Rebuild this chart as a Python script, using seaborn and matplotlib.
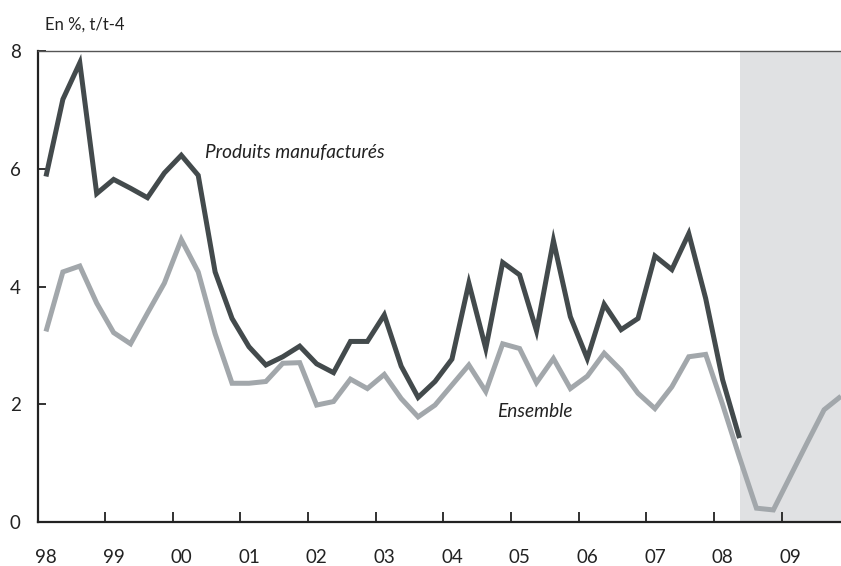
import numpy as np
import pandas as pd
import matplotlib
matplotlib.use("Agg")
import matplotlib.pyplot as plt
import seaborn as sns

# ---- data (quarterly, 1998Q1 onwards) ----
start_year = 1998
manuf = [5.87, 7.18, 7.80, 5.58, 5.82, 5.67, 5.51, 5.93, 6.23, 5.89,
         4.25, 3.46, 2.98, 2.67, 2.81, 2.99, 2.69, 2.54, 3.07, 3.07,
         3.52, 2.65, 2.12, 2.39, 2.77, 4.06, 2.95, 4.41, 4.20, 3.25,
         4.78, 3.49, 2.78, 3.70, 3.27, 3.46, 4.52, 4.29, 4.90, 3.80,
         2.42, 1.43]
ensemble = [3.24, 4.25, 4.35, 3.72, 3.22, 3.03, 3.55, 4.06, 4.80, 4.25,
            3.20, 2.36, 2.36, 2.39, 2.70, 2.71, 1.99, 2.05, 2.43, 2.27,
            2.51, 2.10, 1.79, 1.99, 2.33, 2.67, 2.22, 3.03, 2.95, 2.37,
            2.78, 2.27, 2.48, 2.87, 2.58, 2.19, 1.93, 2.30, 2.81, 2.85,
            2.00, 1.10, 0.24, 0.21, 0.78, 1.35, 1.91, 2.14]
year_labels = ["98", "99", "00", "01", "02", "03", "04", "05", "06", "07", "08", "09"]
y_ticks = [0, 2, 4, 6, 8]
forecast_start = 2008.375  # shaded (forecast) period start

def qpos(n):
    return start_year + (np.arange(n) + 0.5) / 4.0

df = pd.concat([
    pd.DataFrame({"t": qpos(len(manuf)), "v": manuf, "s": "Produits manufacturés"}),
    pd.DataFrame({"t": qpos(len(ensemble)), "v": ensemble, "s": "Ensemble"}),
])

sns.set_style("white")
plt.rcParams["font.family"] = ["Lato", "DejaVu Sans"]

fig = plt.figure(figsize=(8.41, 5.66), dpi=100)
ax = fig.add_axes([0.0446, 0.0772, 1 - 0.0446, 0.9099 - 0.0772])

x_end = start_year + (len(ensemble) - 0.5) / 4.0
ax.axvspan(forecast_start, x_end + 1, color="#e0e1e3", zorder=0, lw=0)

sns.lineplot(data=df, x="t", y="v", hue="s",
             palette={"Produits manufacturés": "#434a4c", "Ensemble": "#a2a7ab"},
             hue_order=["Ensemble", "Produits manufacturés"],
             linewidth=3.6, legend=False, ax=ax, sort=False)
for ln in ax.get_lines():
    ln.set_solid_joinstyle("miter")
    ln.set_solid_capstyle("butt")

ax.set_xlim(start_year, x_end)
ax.set_ylim(0, 8)
ax.set_xlabel("")
ax.set_ylabel("")

years = np.arange(start_year, start_year + len(year_labels))
ax.set_xticks(years)
ax.set_xticklabels([])
ax.set_xticks(years + 0.125, minor=True)
ax.set_xticklabels(year_labels, minor=True)
ax.tick_params(axis="x", which="major", direction="in", length=7, width=1.3,
               color="#222222", bottom=True)
ax.tick_params(axis="x", which="minor", length=0, pad=19, labelsize=13.5,
               labelcolor="#222222")

ax.set_yticks(y_ticks)
ax.set_yticklabels([str(v) for v in y_ticks])
ax.tick_params(axis="y", direction="in", length=6, width=1.3, color="#222222",
               left=True, pad=12, labelsize=13.5, labelcolor="#222222")

for side in ["left", "bottom"]:
    ax.spines[side].set_color("#222222")
    ax.spines[side].set_linewidth(1.6)
ax.spines["top"].set_color("#555555")
ax.spines["top"].set_linewidth(1.0)
ax.spines["right"].set_visible(False)

ax.text(2000.47, 6.28, "Produits manufacturés", style="italic", fontsize=13.7,
        color="#222222", va="center", ha="left")
ax.text(2004.79, 1.88, "Ensemble", style="italic", fontsize=13.7,
        color="#222222", va="center", ha="left")

fig.text(45 / 841, 1 - 25 / 566, "En %, t/t-4", fontsize=12, color="#222222",
         va="center", ha="left")

fig.savefig("out.png", dpi=100)
